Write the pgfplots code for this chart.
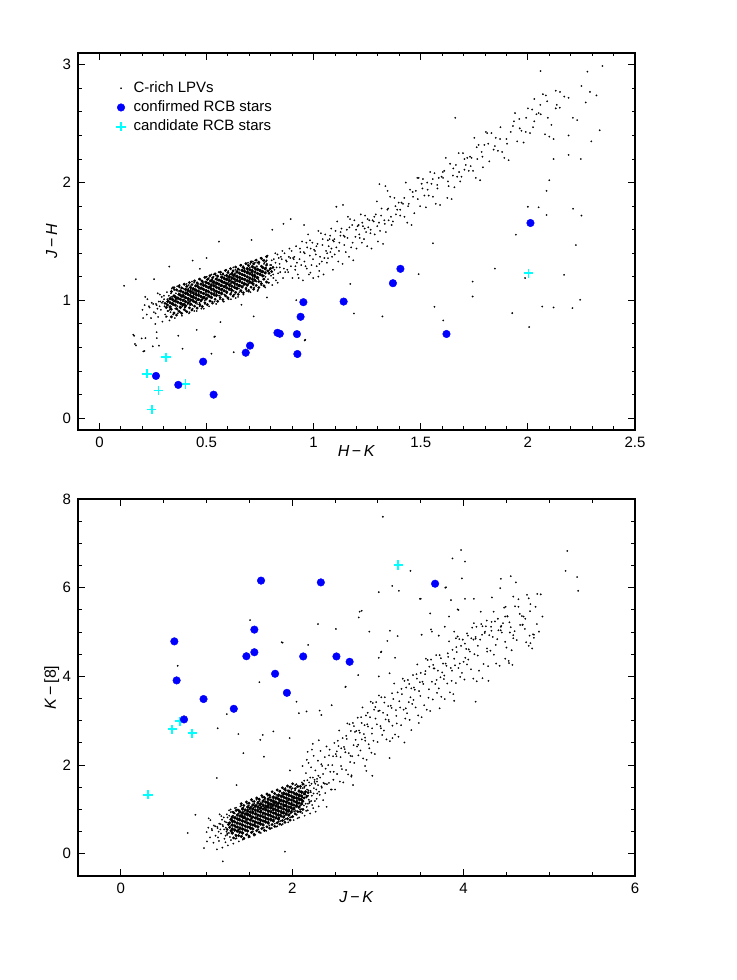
\documentclass[border=0pt]{standalone}
\usepackage{fontspec}
\setmainfont{Liberation Sans}
\usepackage{pgfplots}
\pgfplotsset{compat=1.18}
\usepackage{pgfplotstable}
\definecolor{rcbblue}{RGB}{0,0,255}
\definecolor{rcbcyan}{RGB}{0,255,255}

\pgfplotsset{
  pgframe/.style={
    scale only axis, width=278.5pt, height=188.5pt,
    axis line style={line width=0.6pt},
    tick align=inside,
    major tick length=3.5pt, minor tick length=1.75pt,
    tick style={black, line width=0.5pt},
    tick label style={font=\fontsize{7.5}{9}\selectfont},
    xticklabel={\pgfmathprintnumber[assume math mode=true]{\tick}},
    yticklabel={\pgfmathprintnumber[assume math mode=true]{\tick}},
    label style={font=\fontsize{8}{9}\selectfont},
    xlabel style={at={(axis description cs:0.5,-0.056)}, anchor=center},
    ylabel style={at={(axis description cs:-0.047,0.5)}, anchor=center},
  },
  lpv/.style={only marks, mark=*, mark size=0.38pt, mark options={draw=black, fill=black, line width=0.1pt}},
  lpvmid/.style={only marks, mark=*, mark size=0.5pt, mark options={draw=none, fill=black}},
  lpvcore/.style={only marks, mark=*, mark size=0.62pt, mark options={draw=none, fill=black}},
  confirmed/.style={only marks, mark=*, mark size=1.9pt, mark options={draw=rcbblue, fill=rcbblue, line width=0.2pt}},
  candidate/.style={only marks, mark=+, mark size=2.3pt, mark options={draw=rcbcyan, line width=0.9pt}},
}

% ---- top panel: H-K vs J-H ----
\pgfplotstableread[row sep=\\]{
x y\\
0.201 0.92\\0.204 0.85\\0.211 0.96\\0.214 1.03\\0.221 0.88\\0.224 1.01\\0.231 0.95\\0.234 0.94\\0.241 0.85\\0.244 0.98\\0.251 0.97\\0.254 0.90\\
0.261 0.80\\0.264 0.97\\0.267 0.96\\0.262 0.89\\0.271 0.93\\0.274 0.86\\0.277 0.99\\0.272 1.06\\
0.281 0.95\\0.284 0.99\\0.287 0.92\\0.282 1.05\\0.291 1.03\\0.294 0.82\\0.297 0.99\\0.292 0.98\\
0.301 1.04\\0.304 0.95\\0.307 0.88\\0.302 1.01\\
0.311 0.86\\0.314 0.97\\0.317 1.01\\0.312 0.94\\0.315 1.07\\0.318 0.91\\
0.321 0.91\\0.324 1.04\\0.327 0.83\\0.322 1.00\\0.325 0.99\\0.328 0.92\\
0.331 0.93\\0.334 1.06\\0.337 0.97\\0.332 0.90\\0.335 1.03\\0.338 1.10\\
0.341 1.11\\0.344 0.88\\0.347 0.99\\0.342 1.03\\0.345 0.96\\0.348 1.09\\
0.351 1.09\\0.354 0.93\\0.357 1.06\\0.352 0.85\\0.355 1.02\\0.358 1.01\\
0.361 1.02\\0.364 0.95\\0.367 1.08\\0.362 0.99\\0.365 0.92\\0.368 1.05\\0.363 1.12\\0.366 0.89\\
0.371 1.06\\0.374 1.13\\0.377 0.90\\0.372 1.01\\0.375 1.05\\0.378 0.98\\0.373 1.11\\0.376 0.95\\
0.381 0.98\\0.384 1.11\\0.387 0.95\\0.382 1.08\\0.385 0.87\\0.388 1.04\\0.383 1.03\\0.386 0.96\\
0.391 1.05\\0.394 1.04\\0.397 0.97\\0.392 1.10\\0.395 1.01\\0.398 0.94\\0.393 1.07\\0.396 1.14\\
0.401 0.94\\0.404 1.07\\0.407 1.14\\0.402 0.91\\0.405 1.02\\0.408 1.06\\0.403 0.99\\0.406 1.12\\
0.411 1.07\\0.414 1.00\\0.417 1.13\\0.412 0.97\\0.415 1.10\\0.418 0.89\\0.413 1.06\\0.416 1.05\\
0.421 0.90\\0.424 1.07\\0.427 1.06\\0.422 0.99\\0.425 1.12\\0.428 1.03\\0.423 0.96\\0.426 1.09\\
0.431 1.03\\0.434 0.96\\0.437 1.09\\0.432 1.16\\0.435 0.93\\0.438 1.04\\0.433 1.08\\0.436 1.01\\
0.441 1.05\\0.444 1.09\\0.447 1.02\\0.442 1.15\\0.445 0.99\\0.448 1.12\\0.443 0.91\\0.446 1.08\\
0.451 1.12\\0.454 0.91\\0.457 1.08\\0.452 1.07\\0.455 1.00\\0.458 1.13\\0.453 1.04\\0.456 0.97\\
0.461 1.14\\0.464 1.05\\0.467 0.98\\0.462 1.11\\0.465 1.18\\0.468 0.95\\0.463 1.06\\0.466 1.10\\
0.471 0.96\\0.474 1.07\\0.477 1.11\\0.472 1.04\\0.475 1.17\\0.478 1.01\\0.473 1.14\\0.476 0.93\\
0.481 1.01\\0.484 1.14\\0.487 0.93\\0.482 1.10\\0.485 1.09\\0.488 1.02\\0.483 1.15\\0.486 1.06\\
0.491 1.03\\0.494 1.16\\0.497 1.07\\0.492 1.00\\0.495 1.13\\0.498 1.20\\0.493 0.97\\0.496 1.08\\
0.501 1.20\\0.504 0.97\\0.507 1.08\\0.502 1.12\\0.505 1.05\\0.508 1.18\\0.503 1.02\\0.506 1.15\\
0.511 1.19\\0.514 1.03\\0.517 1.16\\0.512 0.95\\0.515 1.12\\0.518 1.11\\0.513 1.04\\0.516 1.17\\
0.521 1.12\\0.524 1.05\\0.527 1.18\\0.522 1.09\\0.525 1.02\\0.528 1.15\\0.523 1.22\\0.526 0.99\\
0.531 1.15\\0.534 1.22\\0.537 0.99\\0.532 1.10\\0.535 1.14\\0.538 1.07\\0.533 1.20\\0.536 1.04\\
0.541 1.08\\0.544 1.21\\0.547 1.05\\0.542 1.18\\0.545 0.97\\0.548 1.14\\0.543 1.13\\0.546 1.06\\
0.551 1.15\\0.554 1.14\\0.557 1.07\\0.552 1.20\\0.555 1.11\\0.558 1.04\\0.553 1.17\\0.556 1.24\\
0.561 1.04\\0.564 1.17\\0.567 1.24\\0.562 1.01\\0.565 1.12\\0.568 1.16\\0.563 1.09\\0.566 1.22\\
0.571 1.17\\0.574 1.10\\0.577 1.23\\0.572 1.07\\0.575 1.20\\0.578 0.99\\0.573 1.16\\0.576 1.15\\
0.581 0.99\\0.584 1.16\\0.587 1.15\\0.582 1.08\\0.585 1.21\\0.588 1.12\\0.583 1.05\\0.586 1.18\\
0.591 1.13\\0.594 1.06\\0.597 1.19\\0.592 1.26\\0.595 1.03\\0.598 1.14\\0.593 1.18\\0.596 1.11\\
0.601 1.15\\0.604 1.19\\0.607 1.12\\0.602 1.25\\0.605 1.09\\0.608 1.22\\0.603 1.01\\0.606 1.18\\
0.611 1.22\\0.614 1.01\\0.617 1.18\\0.612 1.17\\0.615 1.10\\0.618 1.23\\0.613 1.14\\0.616 1.07\\
0.621 1.24\\0.624 1.15\\0.627 1.08\\0.622 1.21\\0.625 1.28\\0.628 1.05\\0.623 1.16\\0.626 1.20\\
0.631 1.05\\0.634 1.16\\0.637 1.20\\0.632 1.13\\0.635 1.26\\0.638 1.10\\0.633 1.23\\0.636 1.02\\
0.641 1.11\\0.644 1.24\\0.647 1.03\\0.642 1.20\\0.645 1.19\\0.648 1.12\\0.643 1.25\\0.646 1.16\\
0.651 1.13\\0.654 1.26\\0.657 1.17\\0.652 1.10\\0.655 1.23\\0.658 1.30\\0.653 1.07\\0.656 1.18\\
0.661 1.30\\0.664 1.07\\0.667 1.18\\0.662 1.22\\0.665 1.15\\0.668 1.28\\0.663 1.12\\0.666 1.25\\
0.671 1.29\\0.674 1.13\\0.677 1.26\\0.672 1.05\\0.675 1.22\\0.678 1.21\\0.673 1.14\\0.676 1.27\\
0.681 1.21\\0.684 1.14\\0.687 1.27\\0.682 1.18\\0.685 1.11\\0.688 1.24\\0.683 1.31\\0.686 1.08\\
0.691 1.25\\0.694 1.32\\0.697 1.09\\0.692 1.20\\0.695 1.24\\0.698 1.17\\0.693 1.30\\0.696 1.14\\
0.701 1.18\\0.704 1.31\\0.707 1.15\\0.702 1.28\\0.705 1.07\\0.708 1.24\\0.703 1.23\\0.706 1.16\\
0.711 1.24\\0.714 1.23\\0.717 1.16\\0.712 1.29\\0.715 1.20\\0.718 1.13\\0.713 1.26\\0.716 1.33\\
0.721 1.14\\0.724 1.27\\0.727 1.34\\0.722 1.11\\0.725 1.22\\0.728 1.26\\0.723 1.19\\0.726 1.32\\
0.731 1.26\\0.734 1.19\\0.737 1.32\\0.732 1.16\\0.735 1.29\\0.738 1.08\\
0.741 1.09\\0.744 1.26\\0.747 1.25\\0.742 1.18\\0.745 1.31\\0.748 1.22\\
0.751 1.23\\0.754 1.16\\0.757 1.29\\0.752 1.36\\0.755 1.13\\0.758 1.24\\
0.761 1.24\\0.764 1.28\\0.767 1.21\\0.762 1.34\\0.765 1.18\\0.768 1.31\\
0.771 1.32\\0.774 1.11\\0.777 1.28\\0.772 1.27\\0.775 1.20\\0.778 1.33\\
0.781 1.34\\0.784 1.25\\0.787 1.18\\0.782 1.31\\0.785 1.38\\0.788 1.15\\
0.791 1.15\\0.794 1.26\\0.797 1.30\\0.792 1.23\\0.801 1.21\\0.804 1.34\\0.807 1.13\\0.802 1.30\\
0.811 1.22\\0.814 1.35\\0.817 1.26\\0.812 1.19\\0.821 1.40\\0.824 1.17\\0.827 1.28\\0.822 1.32\\
0.831 1.39\\0.834 1.23\\0.837 1.36\\0.832 1.15\\0.841 1.31\\0.844 1.24\\0.847 1.37\\0.842 1.28\\
0.851 1.35\\0.854 1.42\\0.857 1.19\\0.861 1.27\\0.864 1.40\\0.867 1.24\\0.871 1.34\\0.874 1.33\\0.877 1.26\\
0.881 1.24\\0.884 1.37\\0.887 1.44\\0.891 1.36\\0.894 1.29\\0.897 1.42\\0.901 1.19\\0.904 1.36\\0.907 1.35\\
0.910 1.37\\0.914 1.26\\0.918 1.46\\0.922 1.32\\0.926 1.22\\0.930 1.19\\0.934 1.35\\0.938 1.41\\0.942 1.30\\0.946 1.50\\
0.950 1.17\\0.954 1.41\\0.958 1.40\\0.962 1.29\\0.966 1.49\\0.970 1.45\\0.974 1.56\\0.978 1.22\\0.982 1.38\\0.986 1.44\\
0.990 1.30\\0.994 1.49\\0.998 1.19\\1.002 1.43\\1.006 1.42\\1.010 1.39\\1.014 1.29\\1.018 1.48\\1.022 1.59\\1.026 1.25\\
1.030 1.37\\1.034 1.57\\1.038 1.33\\1.042 1.52\\1.046 1.22\\1.050 1.36\\1.054 1.56\\1.058 1.42\\1.062 1.32\\1.066 1.51\\
1.070 1.46\\1.074 1.52\\1.078 1.41\\1.082 1.61\\1.086 1.37\\1.090 1.51\\1.094 1.50\\1.098 1.39\\1.102 1.59\\1.106 1.45\\
1.110 1.67\\1.115 1.33\\1.120 1.49\\1.125 1.55\\1.130 1.61\\1.135 1.31\\1.140 1.55\\1.145 1.54\\
1.150 1.41\\1.155 1.60\\1.160 1.71\\1.165 1.37\\1.170 1.69\\1.175 1.45\\1.180 1.64\\1.185 1.34\\
1.190 1.68\\1.195 1.54\\1.200 1.44\\1.205 1.63\\1.210 1.64\\1.215 1.53\\1.220 1.73\\1.225 1.49\\
1.230 1.63\\1.235 1.52\\1.240 1.72\\1.245 1.58\\1.250 1.46\\1.255 1.62\\1.260 1.68\\1.265 1.57\\
1.270 1.44\\1.275 1.68\\1.280 1.67\\1.285 1.56\\1.290 1.73\\1.295 1.84\\1.300 1.50\\1.305 1.66\\
1.310 1.59\\1.317 1.78\\1.324 1.48\\1.330 1.68\\1.337 1.58\\1.344 1.77\\1.350 1.68\\1.357 1.88\\1.364 1.64\\
1.370 1.67\\1.377 1.87\\1.384 1.73\\1.390 1.77\\1.397 1.83\\1.404 1.72\\1.410 1.83\\1.417 1.82\\1.424 1.71\\
1.430 2.00\\1.437 1.66\\1.444 1.82\\1.450 1.94\\1.457 1.64\\1.464 1.88\\1.470 1.74\\1.477 1.93\\1.484 2.04\\
1.490 2.04\\1.497 1.80\\1.504 1.99\\1.510 2.03\\1.517 1.89\\1.524 1.79\\1.530 2.00\\1.537 1.89\\1.544 2.09\\
1.550 1.99\\1.557 1.88\\1.564 2.08\\1.570 1.82\\1.577 1.98\\1.584 2.04\\1.590 1.81\\1.597 2.05\\1.604 2.04\\
1.610 2.10\\1.617 2.21\\1.624 1.87\\1.630 1.97\\1.637 2.16\\1.644 1.86\\1.650 2.06\\1.657 1.96\\1.664 2.15\\
1.670 2.05\\1.677 2.25\\1.684 2.01\\1.690 2.05\\1.697 2.25\\1.704 2.11\\1.710 2.15\\1.717 2.21\\1.724 2.10\\
1.730 2.22\\1.737 2.21\\1.744 2.10\\1.750 2.38\\1.757 2.04\\1.764 2.20\\1.770 2.32\\1.777 2.02\\1.784 2.26\\
1.790 2.13\\1.797 2.32\\1.804 2.43\\
1.81 2.42\\1.82 2.18\\1.83 2.42\\1.84 2.28\\1.85 2.38\\1.86 2.27\\1.87 2.37\\1.88 2.26\\1.89 2.21\\1.90 2.37\\
1.91 2.19\\1.92 2.43\\1.93 2.48\\1.94 2.59\\1.95 2.35\\1.96 2.54\\1.97 2.44\\1.98 2.34\\1.99 2.43\\2.00 2.63\\
2.01 2.42\\2.02 2.62\\2.03 2.52\\2.04 2.58\\2.05 2.59\\2.06 2.58\\2.07 2.75\\2.08 2.41\\2.09 2.69\\2.10 2.39\\
2.11 2.49\\2.13 2.78\\2.15 2.77\\2.17 2.73\\2.19 2.72\\2.21 2.55\\2.23 2.53\\2.25 2.82\\2.27 2.68\\2.29 2.77\\
0.915 1.29\\0.936 1.44\\0.957 1.33\\0.968 1.27\\0.983 1.51\\0.997 1.35\\1.013 1.46\\1.027 1.31\\1.041 1.47\\1.063 1.40\\
1.077 1.55\\1.083 1.44\\1.097 1.52\\1.118 1.42\\1.126 1.58\\1.143 1.47\\1.158 1.53\\1.167 1.62\\1.182 1.49\\1.198 1.60\\
1.213 1.56\\1.227 1.66\\1.238 1.61\\1.252 1.69\\1.266 1.60\\1.283 1.71\\1.297 1.63\\1.315 1.72\\1.332 1.65\\1.348 1.78\\
1.361 1.71\\1.382 1.80\\1.404 1.77\\1.423 1.87\\1.441 1.80\\1.462 1.92\\1.486 1.86\\1.508 1.95\\1.532 1.94\\1.556 2.03\\
1.578 1.95\\1.603 2.09\\1.627 2.01\\1.652 2.12\\1.679 2.09\\1.704 2.20\\1.733 2.14\\1.761 2.30\\1.788 2.22\\1.815 2.33\\
1.846 2.31\\1.872 2.47\\1.903 2.33\\1.935 2.52\\1.962 2.46\\1.992 2.55\\2.024 2.47\\2.058 2.66\\2.093 2.55\\2.135 2.66\\
2.059 2.947\\2.278 2.942\\2.348 2.99\\2.084 2.74\\2.32 2.74\\2.03 2.71\\2.149 2.636\\2.13 2.63\\2.335 2.444\\2.296 2.35\\
2.19 2.40\\2.12 2.37\\2.12 2.20\\2.247 2.20\\2.19 2.235\\1.661 2.55\\2.10 2.02\\2.087 1.93\\2.00 1.795\\2.05 1.79\\
2.087 1.725\\2.211 1.778\\2.25 1.72\\1.944 1.558\\2.224 1.47\\1.846 1.27\\1.987 1.19\\2.169 1.217\\1.742 1.16\\1.742 1.033\\
2.244 1.005\\2.067 0.948\\2.12 0.94\\2.208 0.935\\1.927 0.892\\2.006 0.774\\1.605 0.83\\
1.557 1.485\\1.49 1.223\\1.171 1.14\\1.564 0.946\\1.188 0.889\\1.321 0.864\\0.961 0.666\\0.919 1.002\\
0.162 0.70\\0.171 0.618\\0.21 0.57\\0.197 0.677\\0.249 0.61\\0.267 0.73\\0.268 0.68\\0.278 0.616\\0.368 0.70\\0.388 0.59\\
0.536 0.69\\0.523 0.548\\0.627 0.56\\0.958 0.66\\0.454 0.75\\
0.115 1.124\\0.17 1.18\\0.255 1.18\\0.326 1.287\\0.435 1.338\\0.50 1.36\\0.469 1.268\\0.558 1.499\\0.71 1.513\\0.807 1.60\\
0.859 1.65\\0.893 1.69\\0.955 1.64\\1.106 1.795\\1.137 1.81\\1.307 1.987\\1.335 1.97\\1.345 1.93\\
0.158 0.709\\0.215 0.68\\0.166 0.63\\0.205 0.567\\0.314 0.864\\0.782 1.025\\0.72 0.864\\0.663 0.963\\0.565 0.816\\0.539 0.694\\
0.985 1.236\\1.022 1.202\\1.09 1.26\\1.067 1.358\\
}\toplpv

% dense core of the LPV cloud (the pile of overlapping points)
\pgfplotstableread[row sep=\\]{
x y\\
0.330 0.945\\0.330 0.980\\0.330 1.015\\0.342 0.971\\0.342 1.006\\0.354 0.960\\0.354 0.995\\0.354 1.030\\0.366 0.985\\0.366 1.020\\
0.378 0.940\\0.378 0.975\\0.378 1.010\\0.378 1.045\\0.378 1.080\\0.390 0.965\\0.390 1.000\\0.390 1.035\\0.390 1.070\\
0.402 0.954\\0.402 0.989\\0.402 1.024\\0.402 1.059\\0.402 1.094\\0.414 0.980\\0.414 1.015\\0.414 1.050\\0.414 1.085\\
0.426 0.969\\0.426 1.004\\0.426 1.039\\0.426 1.074\\0.426 1.109\\0.438 0.994\\0.438 1.029\\0.438 1.064\\0.438 1.099\\
0.450 0.984\\0.450 1.019\\0.450 1.054\\0.450 1.089\\0.450 1.124\\0.462 1.009\\0.462 1.044\\0.462 1.079\\0.462 1.114\\
0.474 0.998\\0.474 1.033\\0.474 1.068\\0.474 1.103\\0.474 1.138\\0.486 1.023\\0.486 1.058\\0.486 1.093\\0.486 1.128\\
0.498 1.013\\0.498 1.048\\0.498 1.083\\0.498 1.118\\0.498 1.153\\0.510 1.038\\0.510 1.073\\0.510 1.108\\0.510 1.143\\
0.522 1.027\\0.522 1.062\\0.522 1.097\\0.522 1.132\\0.522 1.167\\0.534 1.053\\0.534 1.088\\0.534 1.123\\0.534 1.158\\
0.546 1.042\\0.546 1.077\\0.546 1.112\\0.546 1.147\\0.546 1.182\\0.558 1.067\\0.558 1.102\\0.558 1.137\\0.558 1.172\\
0.570 1.057\\0.570 1.092\\0.570 1.127\\0.570 1.162\\0.570 1.197\\0.582 1.082\\0.582 1.117\\0.582 1.152\\0.582 1.187\\
0.594 1.071\\0.594 1.106\\0.594 1.141\\0.594 1.176\\0.594 1.211\\0.606 1.097\\0.606 1.132\\0.606 1.167\\0.606 1.202\\
0.618 1.086\\0.618 1.121\\0.618 1.156\\0.618 1.191\\0.618 1.226\\0.630 1.111\\0.630 1.146\\0.630 1.181\\0.630 1.216\\
0.642 1.101\\0.642 1.136\\0.642 1.171\\0.642 1.206\\0.642 1.241\\0.654 1.126\\0.654 1.161\\0.654 1.196\\0.654 1.231\\
0.666 1.115\\0.666 1.150\\0.666 1.185\\0.666 1.220\\0.666 1.255\\0.678 1.141\\0.678 1.176\\0.678 1.211\\0.678 1.246\\
0.690 1.130\\0.690 1.165\\0.690 1.200\\0.690 1.235\\0.690 1.270\\0.702 1.155\\0.702 1.190\\0.702 1.225\\0.702 1.260\\
0.714 1.145\\0.714 1.180\\0.714 1.215\\0.714 1.250\\0.714 1.285\\0.726 1.170\\0.726 1.205\\0.726 1.240\\0.726 1.275\\
0.738 1.194\\0.738 1.229\\0.738 1.264\\0.750 1.220\\0.750 1.255\\0.762 1.209\\0.762 1.244\\0.762 1.279\\0.774 1.234\\0.774 1.269\\
}\toplpvcore

% fringe round the core
\pgfplotstableread[row sep=\\]{
x y\\
0.336 1.075\\0.336 0.860\\0.348 1.108\\0.348 0.893\\0.360 1.090\\0.360 0.875\\0.372 1.122\\0.372 0.907\\
0.384 1.105\\0.384 0.890\\0.396 1.137\\0.396 0.922\\0.408 1.119\\0.408 0.904\\0.420 1.152\\0.420 0.937\\
0.432 1.134\\0.432 0.919\\0.444 1.166\\0.444 0.951\\0.456 1.149\\0.456 0.934\\0.468 1.181\\0.468 0.966\\
0.480 1.163\\0.480 0.948\\0.492 1.195\\0.492 0.980\\0.504 1.178\\0.504 0.963\\0.516 1.210\\0.516 0.995\\
0.528 1.192\\0.528 0.977\\0.540 1.225\\0.540 1.010\\0.552 1.207\\0.552 0.992\\0.564 1.239\\0.564 1.024\\
0.576 1.222\\0.576 1.007\\0.588 1.254\\0.588 1.039\\0.600 1.236\\0.600 1.021\\0.612 1.269\\0.612 1.054\\
0.624 1.251\\0.624 1.036\\0.636 1.283\\0.636 1.068\\0.648 1.266\\0.648 1.051\\0.660 1.298\\0.660 1.083\\
0.672 1.280\\0.672 1.065\\0.684 1.313\\0.684 1.098\\0.696 1.295\\0.696 1.080\\0.708 1.327\\0.708 1.112\\
0.720 1.310\\0.720 1.095\\0.732 1.342\\0.732 1.127\\0.744 1.324\\0.744 1.109\\0.756 1.357\\0.756 1.142\\
0.768 1.339\\0.768 1.124\\0.780 1.371\\0.780 1.156\\
0.318 0.960\\0.306 0.975\\0.318 0.990\\0.312 0.940\\0.786 1.250\\0.798 1.270\\0.792 1.230\\0.810 1.280\\0.804 1.245\\
0.336 0.925\\0.348 1.040\\0.360 0.930\\0.372 1.050\\0.744 1.160\\0.756 1.290\\0.768 1.180\\0.780 1.300\\
}\toplpvmid

\pgfplotstableread[row sep=\\]{
x y\\
0.264 0.359\\0.368 0.283\\0.484 0.48\\0.533 0.20\\0.683 0.556\\0.703 0.616\\0.831 0.725\\0.842 0.717\\0.922 0.714\\
0.924 0.545\\0.939 0.861\\0.952 0.985\\1.14 0.99\\1.37 1.146\\1.405 1.268\\1.62 0.715\\2.012 1.657\\
}\topconf

\pgfplotstableread[row sep=\\]{
x y\\
0.222 0.378\\0.311 0.517\\0.402 0.291\\0.276 0.235\\0.244 0.074\\2.003 1.231\\
}\topcand

% ---- bottom panel: J-K vs K-[8] ----
\pgfplotstableread[row sep=\\]{
x y\\
1.001 0.49\\1.005 0.28\\1.021 0.59\\1.025 0.80\\1.041 0.37\\1.045 0.76\\1.061 0.56\\1.065 0.53\\1.081 0.25\\1.085 0.64\\1.101 0.62\\1.105 0.41\\
1.121 0.10\\1.125 0.61\\1.129 0.58\\1.133 0.37\\1.141 0.50\\1.145 0.29\\1.149 0.68\\1.153 0.89\\
1.161 0.55\\1.165 0.67\\1.169 0.46\\1.173 0.85\\1.181 0.77\\1.185 0.14\\1.189 0.65\\1.193 0.62\\
1.201 0.82\\1.205 0.55\\1.209 0.34\\1.213 0.73\\
1.221 0.26\\1.225 0.59\\1.229 0.71\\1.233 0.50\\1.237 0.89\\1.223 0.41\\
1.241 0.43\\1.245 0.82\\1.249 0.19\\1.253 0.70\\1.257 0.67\\1.243 0.46\\
1.261 0.47\\1.265 0.86\\1.269 0.59\\1.273 0.38\\1.277 0.77\\1.263 0.98\\
1.281 1.00\\1.285 0.31\\1.289 0.64\\1.293 0.76\\1.297 0.55\\1.283 0.94\\
1.301 0.95\\1.305 0.47\\1.309 0.86\\1.313 0.23\\1.317 0.74\\1.303 0.71\\
1.321 0.73\\1.325 0.52\\1.329 0.91\\1.333 0.64\\1.337 0.43\\1.323 0.82\\1.331 1.03\\1.335 0.34\\
1.341 0.83\\1.345 1.04\\1.349 0.35\\1.353 0.68\\1.357 0.80\\1.343 0.59\\1.351 0.98\\1.355 0.50\\
1.361 0.61\\1.365 1.00\\1.369 0.52\\1.373 0.91\\1.377 0.28\\1.363 0.79\\1.371 0.76\\1.375 0.55\\
1.381 0.80\\1.385 0.77\\1.389 0.56\\1.393 0.95\\1.397 0.68\\1.383 0.47\\1.391 0.86\\1.395 1.07\\
1.401 0.49\\1.405 0.88\\1.409 1.09\\1.413 0.40\\1.417 0.73\\1.403 0.85\\1.411 0.64\\1.415 1.03\\
1.421 0.86\\1.425 0.65\\1.429 1.04\\1.433 0.56\\1.437 0.95\\1.423 0.32\\1.431 0.83\\1.435 0.80\\
1.441 0.34\\1.445 0.85\\1.449 0.82\\1.453 0.61\\1.457 1.00\\1.443 0.73\\1.451 0.52\\1.455 0.91\\
1.461 0.74\\1.465 0.53\\1.469 0.92\\1.473 1.13\\1.477 0.44\\1.463 0.77\\1.471 0.89\\1.475 0.68\\
1.481 0.79\\1.485 0.91\\1.489 0.70\\1.493 1.09\\1.497 0.61\\1.483 1.00\\1.491 0.37\\1.495 0.88\\
1.501 1.01\\1.505 0.38\\1.509 0.89\\1.513 0.86\\1.517 0.65\\1.503 1.04\\1.511 0.77\\1.515 0.56\\
1.521 1.06\\1.525 0.79\\1.529 0.58\\1.533 0.97\\1.537 1.18\\1.523 0.49\\1.531 0.82\\1.535 0.94\\
1.541 0.50\\1.545 0.83\\1.549 0.95\\1.553 0.74\\1.557 1.13\\1.543 0.65\\1.551 1.04\\1.555 0.41\\
1.561 0.67\\1.565 1.06\\1.569 0.43\\1.573 0.94\\1.577 0.91\\1.563 0.70\\1.571 1.09\\1.575 0.82\\
1.581 0.71\\1.585 1.10\\1.589 0.83\\1.593 0.62\\1.597 1.01\\1.583 1.22\\1.591 0.53\\1.595 0.86\\
1.601 1.24\\1.605 0.55\\1.609 0.88\\1.613 1.00\\1.617 0.79\\1.603 1.18\\1.611 0.70\\1.615 1.09\\
1.621 1.19\\1.625 0.71\\1.629 1.10\\1.633 0.47\\1.637 0.98\\1.623 0.95\\1.631 0.74\\1.635 1.13\\
1.641 0.97\\1.645 0.76\\1.649 1.15\\1.653 0.88\\1.657 0.67\\1.643 1.06\\1.651 1.27\\1.655 0.58\\
1.661 1.07\\1.665 1.28\\1.669 0.59\\1.673 0.92\\1.677 1.04\\1.663 0.83\\1.671 1.22\\1.675 0.74\\
1.681 0.85\\1.685 1.24\\1.689 0.76\\1.693 1.15\\1.697 0.52\\1.683 1.03\\1.691 1.00\\1.695 0.79\\
1.701 1.04\\1.705 1.01\\1.709 0.80\\1.713 1.19\\1.717 0.92\\1.703 0.71\\1.711 1.10\\1.715 1.31\\
1.721 0.73\\1.725 1.12\\1.729 1.33\\1.733 0.64\\1.737 0.97\\1.723 1.09\\1.731 0.88\\1.735 1.27\\
1.741 1.10\\1.745 0.89\\1.749 1.28\\1.753 0.80\\1.757 1.19\\1.743 0.56\\1.751 1.07\\1.755 1.04\\
1.761 0.58\\1.765 1.09\\1.769 1.06\\1.773 0.85\\1.777 1.24\\1.763 0.97\\1.771 0.76\\1.775 1.15\\
1.781 0.98\\1.785 0.77\\1.789 1.16\\1.793 1.37\\1.797 0.68\\1.783 1.01\\1.791 1.13\\1.795 0.92\\
1.801 1.03\\1.805 1.15\\1.809 0.94\\1.813 1.33\\1.817 0.85\\1.803 1.24\\1.811 0.61\\1.815 1.12\\
1.821 1.25\\1.825 0.62\\1.829 1.13\\1.833 1.10\\1.837 0.89\\1.823 1.28\\1.831 1.01\\1.835 0.80\\
1.841 1.30\\1.845 1.03\\1.849 0.82\\1.853 1.21\\1.857 1.42\\1.843 0.73\\1.851 1.06\\1.855 1.18\\
1.861 0.74\\1.865 1.07\\1.869 1.19\\1.873 0.98\\1.877 1.37\\1.863 0.89\\1.871 1.28\\1.875 0.65\\
1.881 0.91\\1.885 1.30\\1.889 0.67\\1.893 1.18\\1.897 1.15\\1.883 0.94\\1.891 1.33\\1.895 1.06\\
1.901 0.95\\1.905 1.34\\1.909 1.07\\1.913 0.86\\1.917 1.25\\1.903 1.46\\1.911 0.77\\1.915 1.10\\
1.921 1.48\\1.925 0.79\\1.929 1.12\\1.933 1.24\\1.937 1.03\\1.923 1.42\\1.931 0.94\\1.935 1.33\\
1.941 1.43\\1.945 0.95\\1.949 1.34\\1.953 0.71\\1.957 1.22\\1.943 1.19\\1.951 0.98\\1.955 1.37\\
1.961 1.21\\1.965 1.00\\1.969 1.39\\1.973 1.12\\1.977 0.91\\1.963 1.30\\1.971 1.51\\1.975 0.82\\
1.981 1.31\\1.985 1.52\\1.989 0.83\\1.993 1.16\\1.997 1.28\\1.983 1.07\\1.991 1.46\\1.995 0.98\\
2.001 1.09\\2.005 1.48\\2.009 1.00\\2.013 1.39\\2.017 0.76\\2.003 1.27\\2.011 1.24\\2.015 1.03\\
2.021 1.28\\2.025 1.25\\2.029 1.04\\2.033 1.43\\2.037 1.16\\2.023 0.95\\2.031 1.34\\2.035 1.55\\
2.041 0.97\\2.045 1.36\\2.049 1.57\\2.053 0.88\\2.057 1.21\\2.043 1.33\\2.051 1.12\\2.055 1.51\\
2.061 1.34\\2.065 1.13\\2.069 1.52\\2.073 1.04\\2.077 1.43\\2.063 0.80\\2.071 1.31\\2.075 1.28\\
2.081 0.82\\2.085 1.33\\2.089 1.30\\2.093 1.09\\2.097 1.48\\2.083 1.21\\2.091 1.00\\2.095 1.39\\
2.101 1.22\\2.105 1.01\\2.109 1.40\\2.113 1.61\\2.117 0.92\\2.103 1.25\\2.111 1.37\\2.115 1.16\\
2.121 1.27\\2.125 1.39\\2.129 1.18\\2.133 1.57\\2.137 1.09\\2.123 1.48\\
2.141 1.49\\2.145 0.86\\2.149 1.37\\2.153 1.34\\2.157 1.13\\2.143 1.52\\
2.161 1.54\\2.165 1.27\\2.169 1.06\\2.173 1.45\\2.177 1.66\\2.163 0.97\\
2.181 0.98\\2.185 1.31\\2.189 1.43\\2.193 1.22\\2.197 1.61\\2.183 1.13\\
2.201 1.15\\2.205 1.54\\2.209 0.91\\2.213 1.42\\2.217 1.39\\2.203 1.18\\
2.221 1.19\\2.225 1.58\\2.229 1.31\\2.233 1.10\\2.241 1.72\\2.245 1.03\\2.249 1.36\\2.253 1.48\\
2.261 1.67\\2.265 1.19\\2.269 1.58\\2.273 0.95\\2.281 1.45\\2.285 1.24\\2.289 1.63\\2.293 1.36\\
2.301 1.55\\2.305 1.76\\2.309 1.07\\2.313 1.40\\
2.321 1.33\\2.325 1.72\\2.341 1.52\\2.345 1.49\\2.361 1.21\\2.365 1.60\\2.381 1.58\\2.385 1.37\\2.401 1.06\\2.405 1.57\\
2.16 1.82\\2.19 2.05\\2.22 1.95\\2.25 2.21\\2.27 1.88\\2.30 2.10\\2.33 2.32\\2.35 1.98\\2.38 2.18\\2.40 2.42\\
2.21 1.72\\2.29 1.69\\2.36 1.80\\2.18 2.30\\2.24 2.48\\2.31 2.56\\2.14 1.65\\2.12 1.98\\2.26 1.62\\2.43 2.22\\
2.17 2.12\\2.34 2.02\\2.39 1.92\\2.23 2.35\\
2.420 2.00\\2.428 1.60\\2.436 2.35\\2.444 1.85\\2.452 1.45\\2.460 1.45\\2.468 2.00\\2.476 2.20\\2.484 1.85\\2.492 2.50\\
2.500 1.45\\2.508 2.25\\2.516 2.20\\2.524 1.80\\2.532 2.55\\2.540 2.43\\2.548 2.78\\2.556 1.63\\2.564 2.18\\2.572 2.38\\
2.580 1.91\\2.588 2.61\\2.596 1.61\\2.604 2.41\\2.612 2.36\\2.620 2.29\\2.628 1.89\\2.636 2.59\\2.644 2.94\\2.652 1.79\\
2.660 2.27\\2.668 2.92\\2.676 2.07\\2.684 2.77\\2.692 1.77\\2.700 2.20\\2.708 2.95\\2.716 2.45\\2.724 2.05\\2.732 2.75\\
2.740 2.57\\2.748 2.77\\2.756 2.42\\2.764 3.07\\2.772 2.22\\2.780 2.78\\2.788 2.73\\2.796 2.33\\2.804 3.08\\2.812 2.58\\
2.820 3.30\\2.828 2.15\\2.836 2.70\\2.844 2.90\\2.852 2.55\\2.860 3.12\\2.868 2.12\\2.876 2.92\\2.884 2.87\\2.892 2.47\\
2.900 2.38\\2.908 3.08\\2.916 3.43\\2.924 2.28\\2.932 2.83\\2.940 3.40\\2.948 2.55\\2.956 3.25\\2.964 2.25\\2.972 3.05\\
2.980 3.42\\2.988 2.92\\2.996 2.52\\3.004 3.22\\3.012 3.57\\
3.02 3.23\\3.03 2.88\\3.04 3.53\\3.05 2.68\\3.06 3.18\\3.07 2.78\\3.08 3.53\\3.09 3.03\\
3.10 2.58\\3.11 3.13\\3.12 3.33\\3.13 2.98\\3.14 2.54\\3.15 3.34\\3.16 3.29\\3.17 2.89\\
3.18 3.49\\3.19 3.84\\3.20 2.69\\3.21 3.24\\3.22 2.94\\3.23 3.64\\3.24 2.64\\3.25 3.44\\
3.26 3.30\\3.27 2.90\\3.28 3.60\\3.29 3.95\\3.30 3.25\\3.31 3.90\\3.32 3.05\\3.33 3.75\\
3.34 3.17\\3.35 3.92\\3.36 3.42\\3.37 3.02\\3.38 3.53\\3.39 3.73\\3.40 3.38\\3.41 4.03\\
3.42 3.75\\3.43 3.70\\3.44 3.30\\3.45 4.05\\3.46 4.27\\3.47 3.12\\3.48 3.67\\3.49 3.87\\
3.50 4.08\\3.51 3.08\\3.52 3.88\\3.53 3.83\\3.54 3.35\\3.55 4.05\\3.56 4.40\\3.57 3.25\\
3.58 4.37\\3.59 3.52\\3.60 4.22\\3.61 3.22\\3.62 4.38\\3.63 3.88\\3.64 3.48\\3.65 4.18\\
3.66 4.18\\3.67 3.83\\3.68 4.48\\3.69 3.63\\3.70 4.13\\3.71 3.73\\3.72 4.48\\3.73 3.98\\
3.74 3.54\\3.75 4.09\\3.76 4.29\\3.77 3.94\\3.78 3.49\\3.79 4.29\\3.80 4.24\\3.81 3.84\\
3.82 4.44\\3.83 4.79\\3.84 3.64\\3.85 4.19\\3.86 3.90\\3.87 4.60\\3.88 3.60\\3.89 4.40\\
3.90 4.25\\3.91 3.85\\3.92 4.55\\3.93 4.90\\3.94 4.19\\3.95 4.84\\3.96 3.99\\3.97 4.69\\
3.98 4.08\\3.99 4.83\\4.00 4.33\\4.01 3.93\\4.02 4.42\\4.03 4.62\\4.04 4.27\\4.05 4.92\\
4.060 4.61\\4.073 4.56\\4.086 4.16\\4.100 5.10\\4.113 3.95\\4.126 4.50\\4.140 4.89\\4.153 3.89\\4.166 4.69\\
4.180 4.13\\4.193 4.83\\4.206 5.18\\4.220 5.13\\4.233 4.28\\4.246 4.98\\4.260 5.13\\4.273 4.63\\4.286 4.23\\
4.300 4.93\\4.313 4.58\\4.326 5.23\\4.340 4.89\\4.353 4.49\\4.366 5.24\\4.380 4.29\\4.393 4.84\\4.406 5.04\\
4.420 4.24\\4.433 5.04\\4.446 4.99\\4.460 5.20\\4.473 5.55\\4.486 4.40\\4.500 4.65\\4.513 5.35\\4.526 4.35\\
4.54 4.99\\4.56 4.59\\4.58 4.93\\4.60 5.58\\4.62 4.82\\4.64 5.57\\4.66 5.16\\4.68 5.36\\4.70 5.35\\4.72 5.30\\
4.74 5.84\\4.76 4.69\\4.78 5.63\\4.80 4.63\\4.82 4.87\\4.84 5.57\\4.86 5.86\\4.88 5.01\\4.90 5.85\\4.92 5.35\\
2.52 2.31\\2.57 1.98\\2.63 2.66\\2.68 2.21\\2.72 2.88\\2.77 2.46\\2.81 2.95\\2.85 2.62\\2.88 3.18\\2.93 2.71\\
2.97 3.31\\3.035 2.83\\3.075 3.41\\3.125 3.02\\3.165 3.62\\3.215 3.11\\3.275 3.72\\3.325 3.28\\3.365 3.83\\3.415 3.47\\
3.455 3.95\\3.495 3.56\\3.555 4.12\\3.595 3.71\\3.645 4.26\\3.685 3.92\\3.735 4.41\\3.775 4.02\\3.815 4.52\\3.865 4.13\\
3.915 4.66\\3.955 4.29\\4.015 4.74\\4.055 4.38\\4.115 4.83\\4.165 4.47\\4.215 4.94\\4.275 4.56\\4.325 5.03\\4.375 4.71\\
4.435 5.12\\4.485 4.78\\4.535 5.22\\4.595 5.02\\4.655 5.41\\4.715 5.07\\4.775 5.47\\4.855 5.18\\
1.627 2.57\\1.78 2.76\\1.97 2.61\\1.67 2.19\\1.43 2.27\\1.12 1.71\\1.35 1.55\\0.87 0.88\\0.78 0.47\\0.97 0.13\\
1.19 -0.17\\1.915 0.05\\2.167 3.21\\2.05 3.43\\2.32 3.23\\2.46 3.35\\1.617 3.87\\1.372 2.70\\1.13 2.83\\0.663 4.24\\
2.186 4.71\\1.888 4.76\\2.624 3.77\\1.656 2.68\\1.973 1.88\\2.71 1.55\\2.69 1.74\\2.48 1.67\\
3.38 6.38\\4.016 6.59\\3.98 6.21\\3.795 6.01\\3.167 6.04\\3.01 5.90\\3.245 5.93\\3.49 5.75\\3.853 5.72\\4.016 5.75\\
3.94 5.50\\3.61 5.42\\2.81 5.48\\2.776 5.33\\2.51 5.07\\2.30 5.18\\1.508 5.27\\2.90 5.01\\3.14 5.03\\3.23 4.91\\
3.11 4.80\\3.63 5.01\\1.877 4.77\\3.04 4.56\\3.20 4.42\\3.01 4.42\\2.77 4.03\\2.62 3.76\\1.237 3.15\\2.078 3.17\\2.34 3.13\\
3.058 7.60\\3.97 6.85\\3.87 6.66\\4.435 6.20\\4.55 6.26\\4.61 6.12\\3.787 6.00\\4.427 5.99\\4.76 5.76\\4.64 5.74\\
4.58 5.80\\4.33 5.78\\4.12 5.75\\3.50 5.75\\4.49 5.57\\4.51 5.36\\3.93 5.51\\2.787 5.46\\5.21 6.83\\5.19 6.38\\
5.325 6.24\\5.337 5.93\\4.686 5.16\\4.82 4.94\\4.77 4.92\\4.73 4.77\\4.78 4.75\\4.58 4.86\\4.55 5.11\\4.44 5.14\\
3.035 4.545\\3.136 4.07\\3.01 4.00\\4.53 4.30\\4.57 4.26\\4.29 3.90\\4.22 3.96\\4.14 3.43\\3.89 3.45\\3.72 3.28\\
3.477 2.95\\3.39 2.79\\3.31 2.51\\3.17 2.61\\3.136 2.16\\2.935 1.76\\2.865 1.87\\2.85 1.98\\
4.20 5.46\\4.35 5.46\\4.27 5.26\\4.40 5.30\\4.485 5.35\\4.69 5.17\\4.81 4.95\\3.51 4.94\\3.83 5.35\\3.62 5.06\\
3.71 4.92\\3.78 5.12\\3.89 5.01\\3.91 4.86\\4.04 4.97\\4.12 5.20\\4.15 5.12\\4.25 5.01\\4.09 4.86\\4.14 4.85\\4.32 5.12\\
}\botlpv

% dense core of the LPV cloud
\pgfplotstableread[row sep=\\]{
x y\\
1.30 0.470\\1.30 0.560\\1.30 0.650\\1.30 0.740\\1.30 0.830\\1.33 0.538\\1.33 0.628\\1.33 0.718\\1.33 0.808\\
1.36 0.515\\1.36 0.605\\1.36 0.695\\1.36 0.785\\1.36 0.875\\
1.39 0.493\\1.39 0.583\\1.39 0.673\\1.39 0.763\\1.39 0.853\\1.39 0.943\\
1.42 0.470\\1.42 0.560\\1.42 0.650\\1.42 0.740\\1.42 0.830\\1.42 0.920\\1.42 1.010\\
1.45 0.538\\1.45 0.628\\1.45 0.718\\1.45 0.808\\1.45 0.898\\1.45 0.988\\
1.48 0.515\\1.48 0.605\\1.48 0.695\\1.48 0.785\\1.48 0.875\\1.48 0.965\\1.48 1.055\\
1.51 0.583\\1.51 0.673\\1.51 0.763\\1.51 0.853\\1.51 0.943\\1.51 1.033\\
1.54 0.560\\1.54 0.650\\1.54 0.740\\1.54 0.830\\1.54 0.920\\1.54 1.010\\1.54 1.100\\
1.57 0.628\\1.57 0.718\\1.57 0.808\\1.57 0.898\\1.57 0.988\\1.57 1.078\\
1.60 0.605\\1.60 0.695\\1.60 0.785\\1.60 0.875\\1.60 0.965\\1.60 1.055\\1.60 1.145\\
1.63 0.673\\1.63 0.763\\1.63 0.853\\1.63 0.943\\1.63 1.033\\1.63 1.123\\
1.66 0.650\\1.66 0.740\\1.66 0.830\\1.66 0.920\\1.66 1.010\\1.66 1.100\\1.66 1.190\\
1.69 0.718\\1.69 0.808\\1.69 0.898\\1.69 0.988\\1.69 1.078\\1.69 1.168\\
1.72 0.695\\1.72 0.785\\1.72 0.875\\1.72 0.965\\1.72 1.055\\1.72 1.145\\1.72 1.235\\
1.75 0.763\\1.75 0.853\\1.75 0.943\\1.75 1.033\\1.75 1.123\\1.75 1.213\\
1.78 0.740\\1.78 0.830\\1.78 0.920\\1.78 1.010\\1.78 1.100\\1.78 1.190\\1.78 1.280\\
1.81 0.808\\1.81 0.898\\1.81 0.988\\1.81 1.078\\1.81 1.168\\1.81 1.258\\
1.84 0.785\\1.84 0.875\\1.84 0.965\\1.84 1.055\\1.84 1.145\\1.84 1.235\\1.84 1.325\\
1.87 0.853\\1.87 0.943\\1.87 1.033\\1.87 1.123\\1.87 1.213\\1.87 1.303\\
1.90 0.830\\1.90 0.920\\1.90 1.010\\1.90 1.100\\1.90 1.190\\1.90 1.280\\1.90 1.370\\
1.93 0.898\\1.93 0.988\\1.93 1.078\\1.93 1.168\\1.93 1.258\\1.93 1.348\\
1.96 0.875\\1.96 0.965\\1.96 1.055\\1.96 1.145\\1.96 1.235\\1.96 1.325\\1.96 1.415\\
1.99 0.943\\1.99 1.033\\1.99 1.123\\1.99 1.213\\1.99 1.303\\1.99 1.393\\
2.02 1.010\\2.02 1.100\\2.02 1.190\\2.02 1.280\\2.02 1.370\\2.05 1.078\\2.05 1.168\\2.05 1.258\\2.05 1.348\\
2.08 1.055\\2.08 1.145\\2.08 1.235\\2.08 1.325\\2.08 1.415\\2.11 1.123\\2.11 1.213\\2.11 1.303\\2.11 1.393\\
}\botlpvcore

% fringe round the core
\pgfplotstableread[row sep=\\]{
x y\\
1.315 0.93\\1.315 0.36\\1.345 0.98\\1.345 0.41\\1.375 0.98\\1.375 0.41\\1.405 1.13\\1.405 0.39\\
1.435 1.09\\1.435 0.35\\1.465 1.17\\1.465 0.43\\1.495 1.14\\1.495 0.40\\1.525 1.22\\1.525 0.48\\
1.555 1.18\\1.555 0.44\\1.585 1.26\\1.585 0.52\\1.615 1.23\\1.615 0.49\\1.645 1.31\\1.645 0.57\\
1.675 1.27\\1.675 0.53\\1.705 1.35\\1.705 0.61\\1.735 1.32\\1.735 0.58\\1.765 1.40\\1.765 0.66\\
1.795 1.36\\1.795 0.62\\1.825 1.44\\1.825 0.70\\1.855 1.41\\1.855 0.67\\1.885 1.49\\1.885 0.75\\
1.915 1.45\\1.915 0.71\\1.945 1.53\\1.945 0.79\\1.975 1.50\\1.975 0.76\\2.005 1.58\\2.005 0.84\\
2.035 1.47\\2.035 0.90\\2.065 1.52\\2.065 0.95\\2.095 1.52\\2.095 0.95\\2.125 1.57\\2.125 1.00\\
1.27 0.60\\1.27 0.70\\1.24 0.55\\1.255 0.66\\1.285 0.52\\1.285 0.78\\
2.14 1.26\\2.14 1.35\\2.17 1.30\\2.155 1.40\\2.185 1.38\\2.125 1.19\\
}\botlpvmid

\pgfplotstableread[row sep=\\]{
x y\\
1.636 6.16\\2.334 6.12\\3.667 6.09\\1.558 5.055\\0.624 4.79\\1.465 4.455\\1.558 4.545\\2.128 4.45\\
2.516 4.45\\2.67 4.33\\1.80 4.06\\0.651 3.91\\1.938 3.63\\0.965 3.49\\1.318 3.27\\0.737 3.03\\
}\botconf

\pgfplotstableread[row sep=\\]{
x y\\
3.237 6.51\\0.60 2.81\\0.686 2.99\\0.834 2.72\\0.318 1.33\\
}\botcand

\begin{document}
\begin{tikzpicture}
\useasboundingbox (0,0) rectangle (368pt,490pt);

\begin{axis}[
  pgframe,
  at={(39pt,275pt)}, anchor=south west,
  xmin=-0.1, xmax=2.5, ymin=-0.1, ymax=3.1,
  xtick={0,0.5,1,1.5,2,2.5}, minor x tick num=4,
  ytick={0,1,2,3}, minor y tick num=4,
  xlabel={\textit{H}\,−\,\textit{K}},
  ylabel={\textit{J}\,−\,\textit{H}},
  legend style={draw=none, fill=none, inner sep=0pt, outer sep=0pt,
    at={(axis description cs:0.069,0.925)}, anchor=north west,
    font=\fontsize{7.5}{9}\selectfont,
    nodes={inner sep=0pt, text height=5.5pt, text depth=1.5pt},
    row sep=2.6pt,
    /tikz/every odd column/.append style={column sep=4pt}},
  legend cell align=left,
  legend image code/.code={\draw[#1] plot coordinates {(0pt,0pt)};},
]
\addplot[lpvcore, forget plot] table {\toplpvcore};
\addplot[lpvmid, forget plot] table {\toplpvmid};
\addplot[lpv] table {\toplpv};
\addlegendentry{C-rich LPVs}
\addplot[candidate, forget plot] table {\topcand};
\addplot[confirmed] table {\topconf};
\addlegendentry{confirmed RCB stars}
\addlegendimage{candidate}
\addlegendentry{candidate RCB stars}
\end{axis}

\begin{axis}[
  pgframe,
  at={(39pt,52pt)}, anchor=south west,
  xmin=-0.5, xmax=6, ymin=-0.5, ymax=8,
  xtick={0,2,4,6}, minor x tick num=3,
  ytick={0,2,4,6,8}, minor y tick num=3,
  xlabel={\textit{J}\,−\,\textit{K}},
  ylabel={\textit{K}\,−\,[8]},
]
\addplot[lpvcore, forget plot] table {\botlpvcore};
\addplot[lpvmid, forget plot] table {\botlpvmid};
\addplot[lpv] table {\botlpv};
\addplot[candidate] table {\botcand};
\addplot[confirmed] table {\botconf};
\end{axis}
\end{tikzpicture}
\end{document}
